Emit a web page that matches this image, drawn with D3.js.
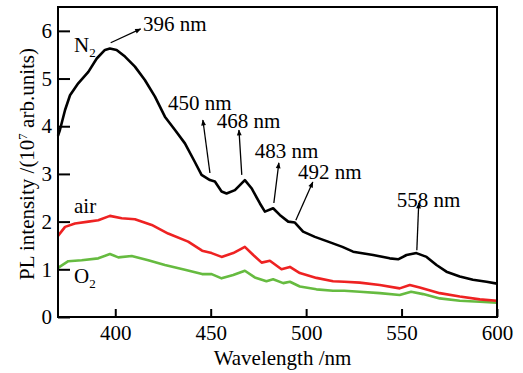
<!DOCTYPE html>
<html>
<head>
<meta charset="utf-8">
<script src="https://cdn.jsdelivr.net/npm/d3@7"></script>
</head>
<body style="margin:0; background:#fff">
<svg id="chart"></svg>
<script>
// wavelength (nm) / intensity (1e7 arb. units)
const n2Wl  = [370, 371, 373.7, 376.3, 380.6, 385.9, 390.3, 394.6, 397.2, 400.7, 405.1, 410.3, 415.5, 420.8, 426, 431.3, 436.5, 441.7, 445.2, 449.6, 452.2, 455.7, 458.3, 462.7, 467.9, 471.4, 475.8, 478.4, 482.7, 486.2, 490.6, 494.1, 498.4, 504.6, 511.5, 519, 524.6, 535.1, 543.8, 548.2, 552.6, 557.8, 563.1, 568.3, 573.5, 580.5, 587.4, 594.5, 600];
const n2Val = [3.8, 3.92, 4.34, 4.65, 4.9, 5.14, 5.42, 5.6, 5.63, 5.6, 5.46, 5.25, 4.97, 4.62, 4.2, 3.92, 3.64, 3.25, 2.98, 2.87, 2.84, 2.63, 2.59, 2.66, 2.87, 2.7, 2.38, 2.21, 2.28, 2.14, 2.0, 1.98, 1.79, 1.68, 1.58, 1.47, 1.37, 1.3, 1.23, 1.21, 1.3, 1.34, 1.26, 1.09, 0.95, 0.85, 0.78, 0.74, 0.7];

const airWl  = [370, 373.7, 378.9, 385.9, 391.1, 397.2, 403.4, 410.3, 419.1, 427.7, 438.2, 445.5, 450.5, 455.7, 461.8, 467.9, 472.3, 476.7, 481, 487.1, 491.5, 496.7, 505.4, 514.1, 520, 528.1, 538.6, 549, 554.3, 559.5, 570, 580.5, 591, 600];
const airVal = [1.7, 1.89, 1.96, 2.0, 2.03, 2.12, 2.07, 2.05, 1.93, 1.75, 1.58, 1.39, 1.34, 1.26, 1.34, 1.47, 1.3, 1.14, 1.18, 1.0, 1.05, 0.92, 0.82, 0.75, 0.74, 0.72, 0.67, 0.6, 0.67, 0.62, 0.5, 0.43, 0.37, 0.34];

const o2Wl  = [370, 375.4, 382.4, 391.1, 397.2, 401.6, 408.6, 417.3, 426, 436.5, 445.5, 450.5, 455.7, 461.8, 467.9, 473.1, 479.2, 482.7, 488, 491.5, 496.7, 505.4, 514.1, 520, 528.1, 538.6, 549, 555, 561.3, 570, 580.5, 591, 600];
const o2Val = [1.03, 1.17, 1.19, 1.23, 1.32, 1.25, 1.28, 1.19, 1.09, 0.99, 0.9, 0.9, 0.81, 0.88, 0.97, 0.83, 0.75, 0.79, 0.71, 0.74, 0.64, 0.58, 0.55, 0.55, 0.53, 0.5, 0.46, 0.53, 0.48, 0.39, 0.34, 0.32, 0.3];

const xTicks = [400, 450, 500, 550, 600];
const yTicks = [0, 1, 2, 3, 4, 5, 6];

// peak labels: text anchor and arrow tail/head, in data units
const peakLabels = ["396 nm", "450 nm", "468 nm", "483 nm", "492 nm", "558 nm"];
const peakTextAt = [[414.5, 6.0], [427.6, 4.34], [453.2, 3.96], [473.1, 3.33], [495.7, 2.89], [547.5, 2.31]];
const peakArrowFrom = [[397.6, 5.75], [449.6, 3.02], [466.3, 2.98], [483.1, 2.39], [494.6, 2.03], [558, 1.4]];
const peakArrowTo = [[413.3, 6.04], [445.9, 4.13], [464.8, 3.92], [485.7, 3.23], [503.5, 2.83], [559, 2.39]];

const FONT = "Liberation Serif";
const W = 523, H = 373;
const margin = {top: 7, right: 26, bottom: 56, left: 58};
const width = W - margin.left - margin.right;
const height = H - margin.top - margin.bottom;

const svg = d3.select("#chart").attr("width", W).attr("height", H)
    .attr("font-family", FONT);

svg.append("defs").append("marker")
    .attr("id", "arrow")
    .attr("viewBox", "0 0 10 10")
    .attr("refX", 9).attr("refY", 5)
    .attr("markerWidth", 9).attr("markerHeight", 6)
    .attr("markerUnits", "userSpaceOnUse")
    .attr("orient", "auto")
  .append("path")
    .attr("d", "M0,1 L10,5 L0,9 Z")
    .attr("fill", "#000");

const g = svg.append("g").attr("transform", `translate(${margin.left},${margin.top})`);

const x = d3.scaleLinear().domain([370, 600]).range([0, width]);
const y = d3.scaleLinear().domain([0, 6.5]).range([height, 0]);

const line = d3.line().x(d => x(d[0])).y(d => y(d[1]));

const series = [
  {wl: o2Wl, val: o2Val, color: "#66bb40"},
  {wl: airWl, val: airVal, color: "#ee2222"},
  {wl: n2Wl, val: n2Val, color: "#000000"}
];

g.selectAll(".curve")
  .data(series)
  .join("path")
    .attr("class", "curve")
    .attr("d", s => line(s.wl.map((w, i) => [w, s.val[i]])))
    .attr("fill", "none")
    .attr("stroke", s => s.color)
    .attr("stroke-width", 2.6)
    .attr("stroke-linejoin", "round");

// axes, ticks pointing inward
const xAxis = g.append("g")
    .attr("transform", `translate(0,${height})`)
    .call(d3.axisBottom(x).tickValues(xTicks).tickFormat(d3.format("d")).tickSize(-8).tickPadding(8));
const yAxis = g.append("g")
    .call(d3.axisLeft(y).tickValues(yTicks).tickFormat(d3.format("d")).tickSize(-12).tickPadding(6));

[xAxis, yAxis].forEach(a => {
  a.attr("font-family", FONT).attr("font-size", 21);
  a.select(".domain").remove();
  a.selectAll("line").attr("stroke", "#000").attr("stroke-width", 2);
  a.selectAll("text").attr("fill", "#000");
});

g.append("rect")
    .attr("width", width).attr("height", height)
    .attr("fill", "none").attr("stroke", "#000").attr("stroke-width", 2);

// axis titles
svg.append("text")
    .attr("x", margin.left + width / 2 + 5).attr("y", 365)
    .attr("text-anchor", "middle").attr("font-size", 21)
    .text("Wavelength /nm");

const yt = svg.append("text")
    .attr("transform", `translate(34,${margin.top + height / 2 + 2}) rotate(-90)`)
    .attr("text-anchor", "middle").attr("font-size", 21);
yt.append("tspan").text("PL intensity /(10");
yt.append("tspan").attr("dy", -7).attr("font-size", 13).text("7");
yt.append("tspan").attr("dy", 7).text(" arb.units)");

// peak annotations
g.selectAll(".peak-arrow")
  .data(peakLabels)
  .join("line")
    .attr("class", "peak-arrow")
    .attr("x1", (d, i) => x(peakArrowFrom[i][0])).attr("y1", (d, i) => y(peakArrowFrom[i][1]))
    .attr("x2", (d, i) => x(peakArrowTo[i][0])).attr("y2", (d, i) => y(peakArrowTo[i][1]))
    .attr("stroke", "#000").attr("stroke-width", 1.3)
    .attr("marker-end", "url(#arrow)");

g.selectAll(".peak-label")
  .data(peakLabels)
  .join("text")
    .attr("class", "peak-label")
    .attr("x", (d, i) => x(peakTextAt[i][0])).attr("y", (d, i) => y(peakTextAt[i][1]))
    .attr("font-size", 21)
    .text(d => d);

// gas labels
function gasLabel(wl, v, main, sub) {
  const t = g.append("text").attr("x", x(wl)).attr("y", y(v)).attr("font-size", 21);
  t.append("tspan").text(main);
  if (sub) t.append("tspan").attr("dy", 5).attr("font-size", 13).text(sub);
}
gasLabel(378.4, 5.56, "N", "2");
gasLabel(378.4, 2.18, "air");
gasLabel(378.4, 0.71, "O", "2");
</script>
</body>
</html>
